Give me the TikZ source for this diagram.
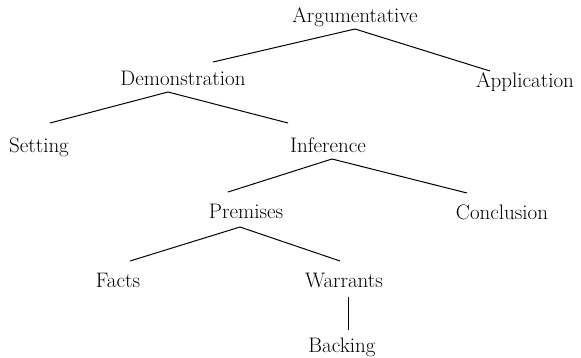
\documentclass[tikz,border=0pt]{standalone}
\usepackage{tikz}
\usetikzlibrary{arrows}

\begin{document}
\begin{tikzpicture}[
            x = 1pt, y = -1pt, % pixel-like units, y pointing down
            line width = 1pt, % line style
            every node/.style = {anchor = base, inner sep = 0pt}
        ]

        \tikzstyle{word}=[
            font = \fontsize{21}{25}\selectfont
        ]

        \useasboundingbox (0,0) rectangle (581,357);

        \node[word] (arg) at (355,22) {Argumentative};

        \node[word] (dem) at (183,85) {Demonstration};
        \node[word] (app) at (525,87) {Application};

        \node[word] (set) at (39,152) {Setting};
        \node[word] (inf) at (328,152) {Inference};

        \node[word] (pre) at (246,218) {Premises};
        \node[word] (con) at (502,219) {Conclusion};

        \node[word] (fac) at (118,287) {Facts};
        \node[word] (war) at (344,287) {Warrants};

        \node[word] (bac) at (342,352) {Backing};

        \path ([shift={(0,7)}]arg.base) edge ([shift={(30,-23)}]dem.base);
        \path ([shift={(0,7)}]arg.base) edge ([shift={(-35,-16)}]app.base);

        \path ([shift={(-15,7)}]dem.base) edge ([shift={(11,-29)}]set.base);
        \path ([shift={(-15,7)}]dem.base) edge ([shift={(-40,-29)}]inf.base);

        \path ([shift={(4,7)}]inf.base) edge ([shift={(-18,-26)}]pre.base);
        \path ([shift={(4,7)}]inf.base) edge ([shift={(-35,-26)}]con.base);

        \path ([shift={(-6,9)}]pre.base) edge ([shift={(12,-26)}]fac.base);
        \path ([shift={(-6,9)}]pre.base) edge ([shift={(-4,-26)}]war.base);

        \path ([shift={(4,10)}]war.base) edge ([shift={(6,-22)}]bac.base);
    \end{tikzpicture}
\end{document}
